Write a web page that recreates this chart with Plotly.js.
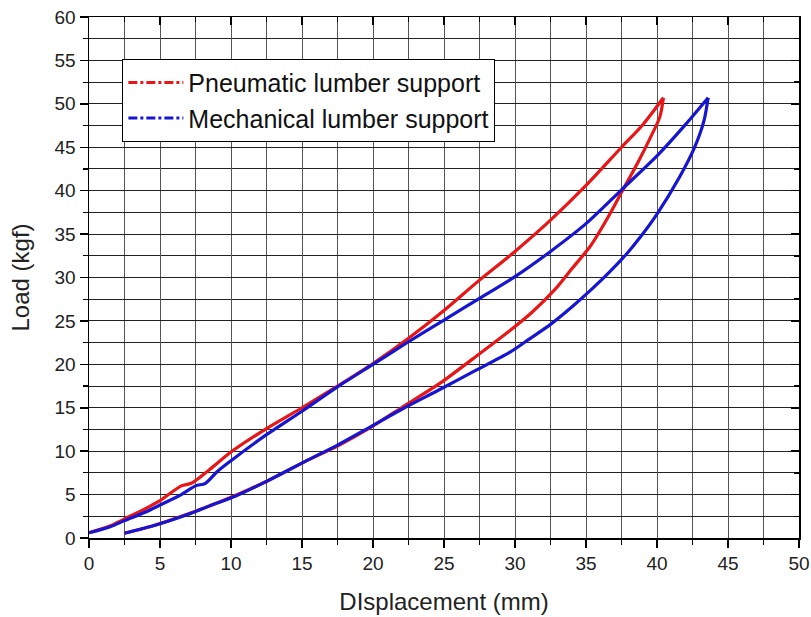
<!DOCTYPE html>
<html>
<head>
<meta charset="utf-8">
<script src="https://cdn.plot.ly/plotly-3.0.1.min.js"></script>
<style>html,body{margin:0;padding:0;background:#fff;}#chart{width:811px;height:617px;}</style>
</head>
<body>
<div id="chart"></div>
<script>
// Pneumatic lumber support: loading (upper) then unloading (lower)
const pneuLoadX = [0, 1.5, 2.5, 4, 5, 6.5, 7.2, 8.5, 10, 12.5, 15, 17.5, 20, 22.5, 25, 27.5, 30, 32.5, 35, 37.5, 39, 40.45];
const pneuLoadY = [0.6, 1.4, 2.2, 3.4, 4.3, 6.0, 6.3, 7.9, 9.9, 12.6, 15.0, 17.5, 20.1, 23.0, 26.2, 29.7, 33.0, 36.6, 40.6, 45.0, 47.6, 50.7];
const pneuUnloadX = [40.45, 40.2, 39.5, 38.7, 37.6, 36.5, 35.3, 34, 32.8, 31.2, 29.65, 27, 24.7, 22, 19.6, 17.5, 15.2, 12.6, 10.3, 7.2, 4.4, 2.5];
const pneuUnloadY = [50.7, 48.5, 46.0, 43.4, 40.1, 36.8, 33.6, 31.0, 28.6, 26.0, 23.9, 20.6, 17.8, 15.0, 12.5, 10.6, 8.8, 6.6, 4.9, 2.9, 1.35, 0.55];

// Mechanical lumber support
const mechLoadX = [0, 1.5, 2.5, 4, 5, 6.5, 7.5, 8.2, 9, 10, 12.5, 15, 17.5, 20, 22.5, 25, 27.5, 30, 32.5, 35, 37.5, 40, 42, 43.6];
const mechLoadY = [0.6, 1.3, 2.0, 3.0, 3.8, 5.0, 6.0, 6.3, 7.6, 8.9, 11.9, 14.6, 17.4, 20.0, 22.6, 25.1, 27.6, 30.1, 33.0, 36.2, 40.1, 44.0, 47.6, 50.7];
const mechUnloadX = [43.6, 43.3, 42.6, 41.6, 40.0, 38.8, 37.9, 36.7, 35.5, 34, 32.5, 31, 29.65, 27, 24.7, 22, 19.6, 17.5, 15.2, 12.6, 10.3, 8.5, 7.2, 5.5, 4.4, 2.5];
const mechUnloadY = [50.7, 48.0, 44.8, 41.6, 37.3, 34.6, 32.8, 30.7, 28.8, 26.6, 24.6, 22.9, 21.4, 19.1, 17.1, 14.8, 12.6, 10.7, 8.8, 6.6, 4.8, 3.7, 2.85, 1.9, 1.35, 0.55];

const seriesNames = ['Pneumatic lumber support', 'Mechanical lumber support'];
const xTitle = 'DIsplacement (mm)';
const yTitle = 'Load (kgf)';

const RED = 'rgb(232,22,22)';
const BLUE = 'rgb(22,22,210)';
const FAM = 'Arial, Liberation Sans, sans-serif';

function curve(x, y, color) {
  return {x: x, y: y, mode: 'lines', line: {color: color, width: 3.2, shape: 'spline', smoothing: 0.8},
          showlegend: false, hoverinfo: 'skip'};
}

const traces = [
  curve(pneuLoadX, pneuLoadY, RED),
  curve(pneuUnloadX, pneuUnloadY, RED),
  curve(mechLoadX, mechLoadY, BLUE),
  curve(mechUnloadX, mechUnloadY, BLUE),
  {x: [null], y: [null], xaxis: 'x2', yaxis: 'y2', mode: 'lines', name: seriesNames[0],
   line: {color: RED, width: 3, dash: 'dashdot'}},
  {x: [null], y: [null], xaxis: 'x2', yaxis: 'y2', mode: 'lines', name: seriesNames[1],
   line: {color: BLUE, width: 3, dash: 'dashdot'}}
];

const tickFont = {family: FAM, size: 19, color: '#222'};
const titleFont = {family: FAM, size: 24, color: '#222'};

const layout = {
  width: 811, height: 617,
  margin: {l: 89, r: 12, t: 17, b: 79},
  paper_bgcolor: '#fff', plot_bgcolor: '#fff',
  font: tickFont,
  showlegend: true,
  legend: {
    x: 0.047, y: 0.92, xanchor: 'left', yanchor: 'top',
    bgcolor: '#fff', bordercolor: '#000', borderwidth: 1,
    font: {family: FAM, size: 25, color: '#111'},
    tracegroupgap: 0, itemwidth: 55
  },
  xaxis: {
    range: [0, 50], dtick: 5, tick0: 0,
    showline: true, linecolor: '#000', linewidth: 1.5, mirror: true,
    ticks: 'outside', ticklen: 8, tickwidth: 1.5, tickcolor: '#000',
    showgrid: true, gridcolor: '#555', gridwidth: 1, zeroline: false,
    minor: {dtick: 2.5, ticks: 'outside', ticklen: 5, tickwidth: 1.2, tickcolor: '#000', showgrid: true, gridcolor: '#555', gridwidth: 1},
    tickfont: tickFont,
    title: {text: xTitle, font: titleFont, standoff: 20}
  },
  yaxis: {
    range: [0, 60], dtick: 5, tick0: 0,
    showline: true, linecolor: '#000', linewidth: 1.5, mirror: true,
    ticks: 'outside', ticklen: 8, tickwidth: 1.5, tickcolor: '#000',
    showgrid: true, gridcolor: '#222', gridwidth: 1, zeroline: false,
    minor: {dtick: 2.5, ticks: 'outside', ticklen: 5, tickwidth: 1.2, tickcolor: '#000', showgrid: true, gridcolor: '#222', gridwidth: 1},
    tickfont: tickFont,
    title: {text: yTitle, font: titleFont, standoff: 18}
  },
  xaxis2: {
    overlaying: 'x', side: 'top', anchor: 'y2', range: [0, 50], dtick: 5,
    showticklabels: false, showgrid: false, zeroline: false, showline: false,
    ticks: 'inside', ticklen: 8, tickwidth: 1.5, tickcolor: '#000',
    minor: {dtick: 2.5, ticks: 'inside', ticklen: 5, tickcolor: '#000', showgrid: false}
  },
  yaxis2: {
    overlaying: 'y', side: 'right', anchor: 'x2', range: [0, 60], dtick: 5,
    showticklabels: false, showgrid: false, zeroline: false, showline: false,
    ticks: 'inside', ticklen: 8, tickwidth: 1.5, tickcolor: '#000',
    minor: {dtick: 2.5, ticks: 'inside', ticklen: 5, tickcolor: '#000', showgrid: false}
  }
};

Plotly.newPlot('chart', traces, layout, {displayModeBar: false, staticPlot: true});
</script>
</body>
</html>
